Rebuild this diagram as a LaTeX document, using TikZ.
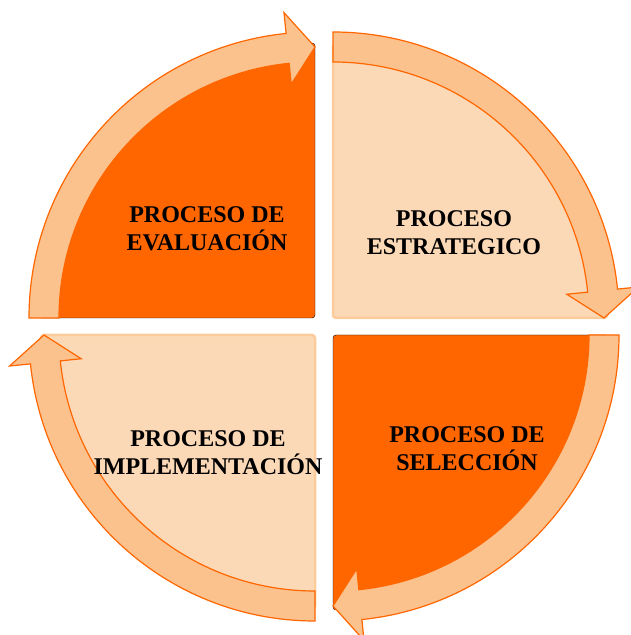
\documentclass[tikz,border=0pt]{standalone}
\usepackage{fontspec}
\setmainfont{Liberation Serif}
\definecolor{dorange}{HTML}{FF6600}
\definecolor{peach}{HTML}{FCD9B6}
\definecolor{peachline}{HTML}{FBCB9C}
\definecolor{arrowfill}{HTML}{FBC28E}
\begin{document}
\begin{tikzpicture}[x=1pt,y=1pt,
  darkq/.style={fill=dorange, rounded corners=3pt},
  lightq/.style={fill=peach, draw=peachline, line width=2.5pt, rounded corners=3pt},
  cyclearrow/.style={fill=arrowfill, draw=dorange, line width=1.2pt, line join=miter},
  lbl/.style={font=\fontsize{24}{28}\selectfont\bfseries, align=center, text=black, inner sep=0pt}]
\useasboundingbox (0,0) rectangle (630,635);
% quadrants
\draw[darkq]  (315,317) -- (40,317) arc[start angle=180,end angle=90,radius=275] -- cycle;
\draw[lightq] (333,317) -- (333,591) arc[start angle=90,end angle=0,radius=274] -- cycle;
\draw[darkq]  (333,300) -- (608,300) arc[start angle=0,end angle=-90,radius=275] -- cycle;
\draw[lightq] (315,300) -- (315,26) arc[start angle=270,end angle=180,radius=274] -- cycle;
% circular arrows
\foreach \cx/\cy/\a in {315/317/180, 333/317/90, 333/300/0, 315/300/270} {
  \pgfmathsetmacro{\b}{\a-84.2}
  \pgfmathsetmacro{\e}{\a-90}
  \begin{scope}[shift={(\cx,\cy)}]
    \draw[cyclearrow] (\a:286) arc[start angle=\a, end angle=\b, radius=286]
      -- (\b:307) -- (\e:271) -- (\b:235) -- (\b:256)
      arc[start angle=\b, end angle=\a, radius=256] -- cycle;
  \end{scope}
}
% labels
\node[lbl] (eval) at (207,406.3) {PROCESO DE\\EVALUACIÓN};
\node[lbl] (estr) at (454,402.5) {PROCESO\\ESTRATEGICO};
\node[lbl] (impl) at (208,182.5) {PROCESO DE\\IMPLEMENTACIÓN};
\node[lbl] (sel)  at (467,186.7) {PROCESO DE\\SELECCIÓN};
\end{tikzpicture}
\end{document}
